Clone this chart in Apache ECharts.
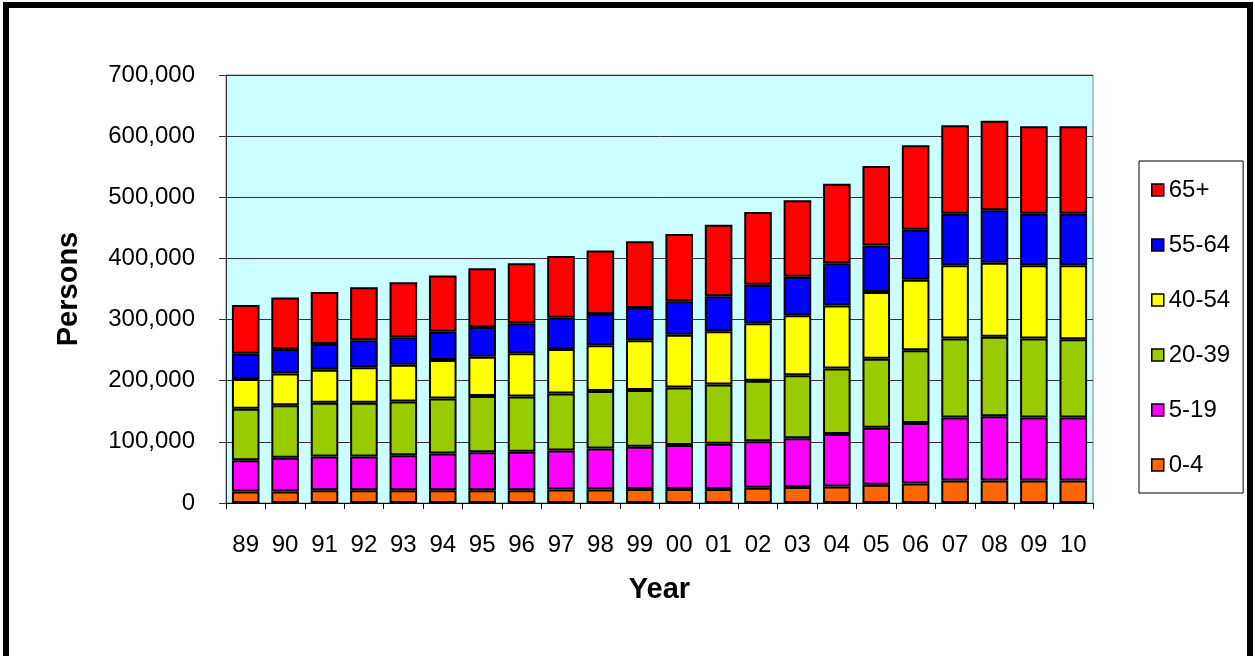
<!DOCTYPE html>
<html>
<head>
<meta charset="utf-8">
<script src="https://cdn.jsdelivr.net/npm/echarts@6/dist/echarts.min.js"></script>
<style>
  html, body { margin: 0; padding: 0; background: #fff; overflow: hidden; }
  #chart { position: absolute; left: 0; top: 0; width: 1255px; height: 656px; }
  #frame {
    position: absolute; left: 3px; top: 2px; width: 1250px; height: 700px;
    box-sizing: border-box; border: 6px solid #000; pointer-events: none;
  }
</style>
</head>
<body>
<div id="chart"></div>
<div id="frame"></div>
<script>
// Population by age group, 1989-2010
const years = ['89','90','91','92','93','94','95','96','97','98','99','00','01','02','03','04','05','06','07','08','09','10'];
const age0to4   = [19000,19000,21000,21000,21000,21000,21000,21000,22000,22000,23000,23000,23000,25000,26000,27000,30000,32000,37000,37000,37000,37000];
const age5to19  = [51000,55000,55000,55000,57000,60000,62000,63000,64000,67000,69000,72000,74000,76000,80000,86000,93000,99000,103000,105000,103000,103000];
const age20to39 = [84000,86000,88000,88000,88000,90000,92000,90000,93000,94000,93000,94000,97000,99000,103000,107000,113000,119000,129000,130000,129000,128000];
const age40to54 = [49000,52000,54000,58000,60000,63000,64000,71000,73000,75000,81000,86000,87000,94000,98000,103000,109000,115000,120000,121000,120000,121000];
const age55to64 = [41000,40000,42000,44000,45000,46000,49000,49000,51000,51000,53000,55000,57000,63000,63000,69000,76000,82000,84000,86000,84000,84000];
const age65plus = [80000,84000,85000,87000,90000,92000,96000,98000,101000,104000,109000,110000,117000,119000,125000,130000,130000,138000,145000,146000,143000,143000];

const groups = [
  { name: '0-4',   data: age0to4,   color: '#FF6600' },
  { name: '5-19',  data: age5to19,  color: '#FF00FF' },
  { name: '20-39', data: age20to39, color: '#99CC00' },
  { name: '40-54', data: age40to54, color: '#FFFF00' },
  { name: '55-64', data: age55to64, color: '#0000FF' },
  { name: '65+',   data: age65plus, color: '#FF0000' }
];

const FONT = '"Liberation Sans", Arial, sans-serif';

function withCommas(v) {
  return String(v).replace(/\B(?=(\d{3})+(?!\d))/g, ',');
}

const chart = echarts.init(document.getElementById('chart'), null, { renderer: 'canvas' });

chart.setOption({
  animation: false,
  backgroundColor: '#fff',
  textStyle: { fontFamily: FONT, color: '#000' },
  grid: {
    left: 226, top: 75, right: 162, bottom: 153,
    show: true, backgroundColor: '#CCFFFF', borderColor: '#808080', borderWidth: 1,
    containLabel: false, outerBoundsMode: 'none'
  },
  legend: {
    orient: 'vertical',
    left: 1139, top: 161,
    padding: [17, 13, 16, 12],
    itemGap: 31,
    itemWidth: 12, itemHeight: 12,
    borderColor: '#000', borderWidth: 1, backgroundColor: '#fff',
    icon: 'rect',
    itemStyle: { borderColor: '#000', borderWidth: 1.5 },
    textStyle: { fontFamily: FONT, fontSize: 24, lineHeight: 24, color: '#000', padding: [0, 0, 0, 0] },
    data: groups.map(g => g.name).reverse()
  },
  xAxis: {
    type: 'category',
    data: years,
    name: 'Year',
    nameLocation: 'middle',
    nameGap: 72,
    nameTextStyle: { fontFamily: FONT, fontSize: 29, fontWeight: 'bold', color: '#000' },
    axisLine: { lineStyle: { color: '#000', width: 1 } },
    axisTick: { show: true, length: 6, alignWithLabel: false, lineStyle: { color: '#000' } },
    axisLabel: { fontFamily: FONT, fontSize: 24, color: '#000', margin: 30, interval: 0 }
  },
  yAxis: {
    type: 'value',
    min: 0, max: 700000, interval: 100000,
    name: 'Persons',
    nameLocation: 'middle',
    nameGap: 143,
    nameRotate: 90,
    nameTextStyle: { fontFamily: FONT, fontSize: 29, fontWeight: 'bold', color: '#000' },
    axisLine: { show: true, lineStyle: { color: '#333', width: 1 } },
    axisTick: { show: true, length: 7, inside: false, lineStyle: { color: '#333' } },
    axisLabel: { fontFamily: FONT, fontSize: 24, color: '#000', margin: 31, formatter: withCommas },
    splitLine: { show: true, lineStyle: { color: '#333', width: 1 } }
  },
  series: groups.map(g => ({
    name: g.name,
    type: 'bar',
    stack: 'total',
    barWidth: '70%',
    data: g.data,
    itemStyle: { color: g.color, borderColor: '#000', borderWidth: 2 }
  }))
});
</script>
</body>
</html>
